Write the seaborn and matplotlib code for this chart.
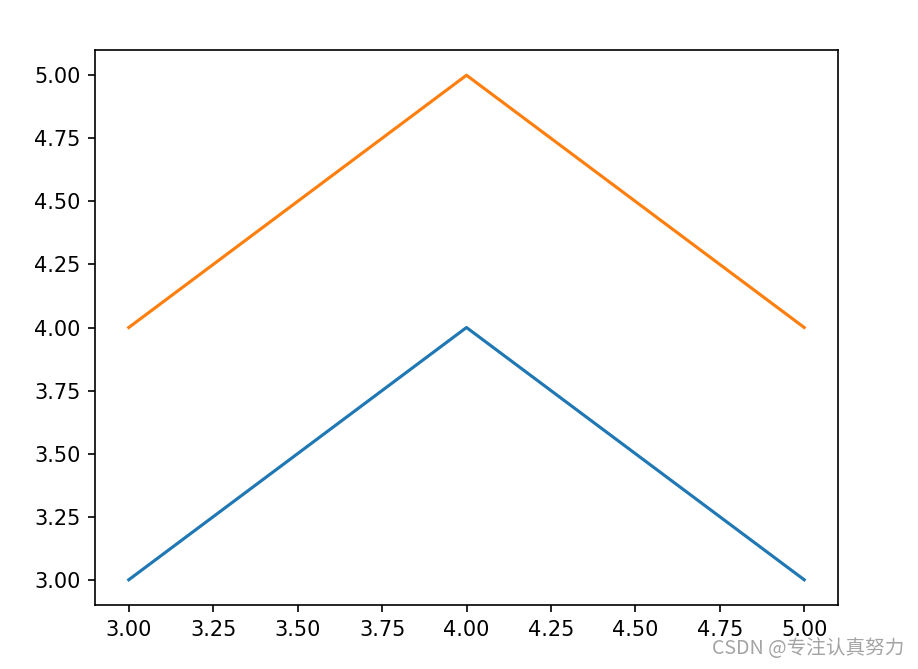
import matplotlib
matplotlib.use('Agg')
import matplotlib.pyplot as plt
import seaborn as sns

# dữ liệu
x = [3, 4, 5]
y1 = [3, 4, 3]
y2 = [4, 5, 4]

fig = plt.figure(figsize=(918 / 150, 669 / 150), dpi=150)
ax = fig.add_axes([95 / 918, 1 - 605 / 669, (838 - 95) / 918, (605 - 50) / 669])

sns.lineplot(x=x, y=y1, ax=ax, color='#1f77b4')
sns.lineplot(x=x, y=y2, ax=ax, color='#ff7f0e')

# watermark
fig.text(904 / 918, 1 - 649 / 669, 'CSDN @专注认真努力', ha='right', va='center',
         fontsize=9.4, color='#a4a4a4',
         family=['Noto Sans CJK SC', 'DejaVu Sans'])

fig.savefig('out.png', dpi=150)
